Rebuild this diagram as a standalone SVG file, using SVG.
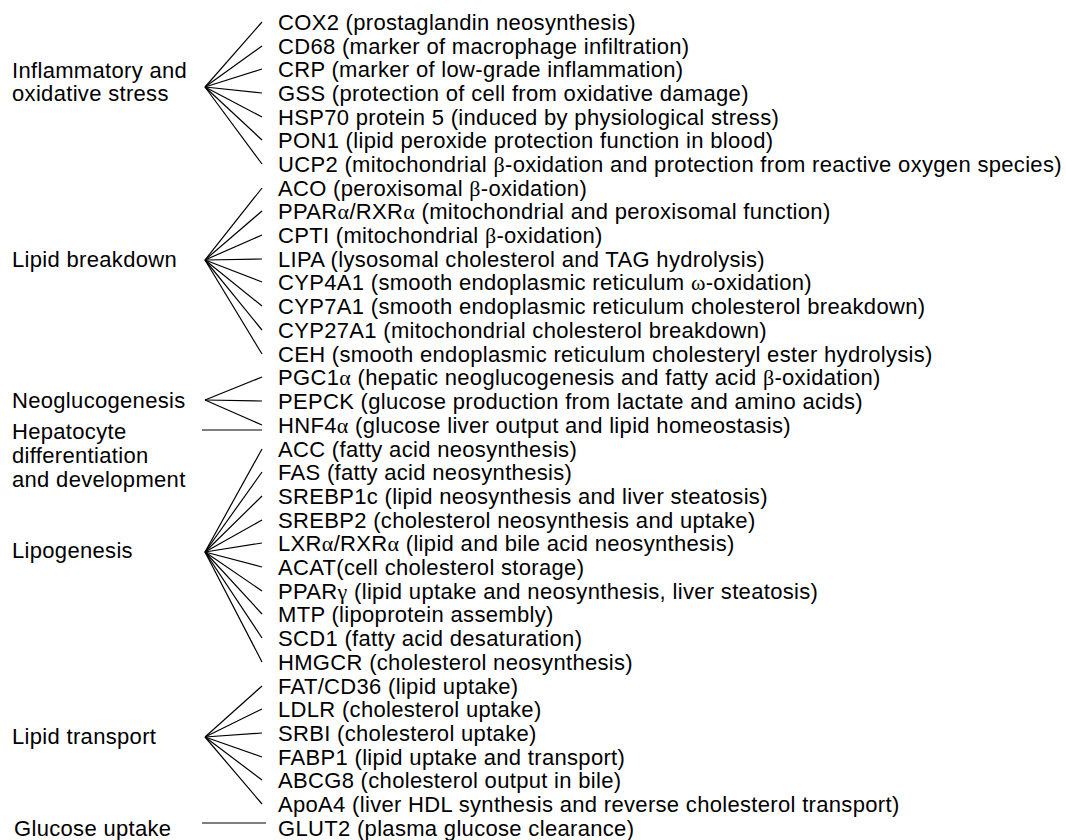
<svg xmlns="http://www.w3.org/2000/svg" width="1066" height="840" viewBox="0 0 1066 840">
<style>
text{font-family:"Liberation Sans",Arial,sans-serif;font-size:22px;fill:#000;letter-spacing:0.32px}
.g{font-family:"Liberation Serif","Times New Roman",serif}
#connectors line{stroke:#000;stroke-width:1.2}
</style>
<rect width="1066" height="840" fill="#fff"/>
<g id="connectors">
<line x1="205" y1="87" x2="262" y2="22"/>
<line x1="205" y1="87" x2="262" y2="46"/>
<line x1="205" y1="87" x2="262" y2="69"/>
<line x1="205" y1="87" x2="262" y2="93"/>
<line x1="205" y1="87" x2="262" y2="117"/>
<line x1="205" y1="87" x2="262" y2="140"/>
<line x1="205" y1="87" x2="262" y2="164"/>
<line x1="205" y1="260" x2="262" y2="188"/>
<line x1="205" y1="260" x2="262" y2="211"/>
<line x1="205" y1="260" x2="262" y2="235"/>
<line x1="205" y1="260" x2="262" y2="259"/>
<line x1="205" y1="260" x2="262" y2="282"/>
<line x1="205" y1="260" x2="262" y2="306"/>
<line x1="205" y1="260" x2="262" y2="330"/>
<line x1="205" y1="260" x2="262" y2="354"/>
<line x1="205" y1="400" x2="262" y2="377"/>
<line x1="205" y1="400" x2="262" y2="401"/>
<line x1="205" y1="400" x2="262" y2="425"/>
<line x1="202" y1="430" x2="262" y2="430"/>
<line x1="205" y1="552" x2="262" y2="449"/>
<line x1="205" y1="552" x2="262" y2="472"/>
<line x1="205" y1="552" x2="262" y2="496"/>
<line x1="205" y1="552" x2="262" y2="520"/>
<line x1="205" y1="552" x2="262" y2="543"/>
<line x1="205" y1="552" x2="262" y2="567"/>
<line x1="205" y1="552" x2="262" y2="591"/>
<line x1="205" y1="552" x2="262" y2="614"/>
<line x1="205" y1="552" x2="262" y2="638"/>
<line x1="205" y1="552" x2="262" y2="662"/>
<line x1="205" y1="737" x2="262" y2="686"/>
<line x1="205" y1="737" x2="262" y2="709"/>
<line x1="205" y1="737" x2="262" y2="733"/>
<line x1="205" y1="737" x2="262" y2="757"/>
<line x1="205" y1="737" x2="262" y2="780"/>
<line x1="205" y1="737" x2="262" y2="804"/>
<line x1="202" y1="823" x2="266" y2="823"/>
</g>
<g id="categories">
<g id="cat-inflammatory"><text x="12" y="78">Inflammatory and</text><text x="12" y="101">oxidative stress</text></g>
<g id="cat-lipid-breakdown"><text x="12" y="267">Lipid breakdown</text></g>
<g id="cat-neoglucogenesis"><text x="12" y="408">Neoglucogenesis</text></g>
<g id="cat-hepatocyte"><text x="12" y="439">Hepatocyte</text><text x="12" y="463">differentiation</text><text x="12" y="487">and development</text></g>
<g id="cat-lipogenesis"><text x="12" y="558">Lipogenesis</text></g>
<g id="cat-lipid-transport"><text x="12" y="744">Lipid transport</text></g>
<g id="cat-glucose"><text x="14" y="836">Glucose uptake</text></g>
</g>
<g id="genes">
<g id="g-cox2"><text x="278" y="30">COX2 (prostaglandin neosynthesis)</text></g>
<g id="g-cd68"><text x="278" y="54">CD68 (marker of macrophage infiltration)</text></g>
<g id="g-crp"><text x="278" y="77">CRP (marker of low-grade inflammation)</text></g>
<g id="g-gss"><text x="278" y="101">GSS (protection of cell from oxidative damage)</text></g>
<g id="g-hsp70"><text x="278" y="125">HSP70 protein 5 (induced by physiological stress)</text></g>
<g id="g-pon1"><text x="278" y="148">PON1 (lipid peroxide protection function in blood)</text></g>
<g id="g-ucp2"><text x="278" y="172">UCP2 (mitochondrial <tspan class="g">β</tspan>-oxidation and protection from reactive oxygen species)</text></g>
<g id="g-aco"><text x="278" y="196">ACO (peroxisomal <tspan class="g">β</tspan>-oxidation)</text></g>
<g id="g-ppara"><text x="278" y="219">PPAR<tspan class="g">α</tspan>/RXR<tspan class="g">α</tspan> (mitochondrial and peroxisomal function)</text></g>
<g id="g-cpti"><text x="278" y="243">CPTI (mitochondrial <tspan class="g">β</tspan>-oxidation)</text></g>
<g id="g-lipa"><text x="278" y="267">LIPA (lysosomal cholesterol and TAG hydrolysis)</text></g>
<g id="g-cyp4a1"><text x="278" y="290">CYP4A1 (smooth endoplasmic reticulum <tspan class="g">ω</tspan>-oxidation)</text></g>
<g id="g-cyp7a1"><text x="278" y="314">CYP7A1 (smooth endoplasmic reticulum cholesterol breakdown)</text></g>
<g id="g-cyp27a1"><text x="278" y="338">CYP27A1 (mitochondrial cholesterol breakdown)</text></g>
<g id="g-ceh"><text x="278" y="362">CEH (smooth endoplasmic reticulum cholesteryl ester hydrolysis)</text></g>
<g id="g-pgc1a"><text x="278" y="385">PGC1<tspan class="g">α</tspan> (hepatic neoglucogenesis and fatty acid <tspan class="g">β</tspan>-oxidation)</text></g>
<g id="g-pepck"><text x="278" y="409">PEPCK (glucose production from lactate and amino acids)</text></g>
<g id="g-hnf4a"><text x="278" y="433">HNF4<tspan class="g">α</tspan> (glucose liver output and lipid homeostasis)</text></g>
<g id="g-acc"><text x="278" y="457">ACC (fatty acid neosynthesis)</text></g>
<g id="g-fas"><text x="278" y="480">FAS (fatty acid neosynthesis)</text></g>
<g id="g-srebp1c"><text x="278" y="504">SREBP1c (lipid neosynthesis and liver steatosis)</text></g>
<g id="g-srebp2"><text x="278" y="528">SREBP2 (cholesterol neosynthesis and uptake)</text></g>
<g id="g-lxra"><text x="278" y="551">LXR<tspan class="g">α</tspan>/RXR<tspan class="g">α</tspan> (lipid and bile acid neosynthesis)</text></g>
<g id="g-acat"><text x="278" y="575">ACAT(cell cholesterol storage)</text></g>
<g id="g-pparg"><text x="278" y="599">PPAR<tspan class="g">γ</tspan> (lipid uptake and neosynthesis, liver steatosis)</text></g>
<g id="g-mtp"><text x="278" y="622">MTP (lipoprotein assembly)</text></g>
<g id="g-scd1"><text x="278" y="646">SCD1 (fatty acid desaturation)</text></g>
<g id="g-hmgcr"><text x="278" y="670">HMGCR (cholesterol neosynthesis)</text></g>
<g id="g-fat"><text x="278" y="694">FAT/CD36 (lipid uptake)</text></g>
<g id="g-ldlr"><text x="278" y="717">LDLR (cholesterol uptake)</text></g>
<g id="g-srbi"><text x="278" y="741">SRBI (cholesterol uptake)</text></g>
<g id="g-fabp1"><text x="278" y="765">FABP1 (lipid uptake and transport)</text></g>
<g id="g-abcg8"><text x="278" y="788">ABCG8 (cholesterol output in bile)</text></g>
<g id="g-apoa4"><text x="278" y="812">ApoA4 (liver HDL synthesis and reverse cholesterol transport)</text></g>
<g id="g-glut2"><text x="278" y="836">GLUT2 (plasma glucose clearance)</text></g>
</g>
</svg>
